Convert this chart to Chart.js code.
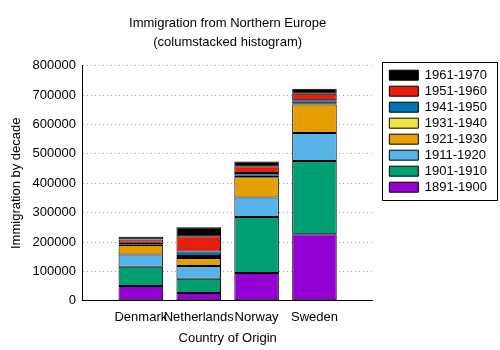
<!DOCTYPE html>
<html>
<head>
<meta charset="utf-8">
<script src="https://cdn.jsdelivr.net/npm/chart.js@4"></script>
<style>
  html,body{margin:0;padding:0;background:#fff;}
  #wrap{width:500px;height:350px;}
</style>
</head>
<body>
<div id="wrap"><canvas id="c" width="500" height="350"></canvas></div>
<script>
// ---- data (immigration by decade, northern europe) ----
const countries=['Denmark','Netherlands','Norway','Sweden'];
const decades=['1891-1900','1901-1910','1911-1920','1921-1930','1931-1940','1941-1950','1951-1960','1961-1970'];
const d1891=[50231,26758,95015,226266];
const d1901=[65285,48262,190505,249534];
const d1911=[41983,43718,66395,95074];
const d1921=[32430,26948,68531,97249];
const d1931=[2559,7150,4740,3960];
const d1941=[5393,14860,10100,10665];
const d1951=[10984,52277,22935,21697];
const d1961=[9201,30606,15484,17116];
const yTicks=[0,100000,200000,300000,400000,500000,600000,700000,800000];
const colors=['#9400d3','#009e73','#56b4e9','#e69f00','#f0e442','#0072b2','#e51e10','#000000'];

const series=[d1891,d1901,d1911,d1921,d1931,d1941,d1951,d1961];
const FONT='"Liberation Sans", Arial, sans-serif';

const datasets=series.map((vals,i)=>({
  label:decades[i],
  data:vals.map((v,j)=>({x:j,y:v})),
  backgroundColor:colors[i],
  borderColor:'#000',
  borderWidth:1,
  borderSkipped:false,
  barPercentage:0.77,
  categoryPercentage:1
}));

// box around the legend, like gnuplot's key
const legendBox={
  id:'legendBox',
  afterDraw(chart){
    const lg=chart.legend;
    if(!lg||!lg.legendHitBoxes.length) return;
    const hb=lg.legendHitBoxes;
    const x=hb[0].left-7, y=hb[0].top-7;
    const last=hb[hb.length-1];
    const ctx=chart.ctx;
    ctx.save();
    ctx.strokeStyle='#000';
    ctx.lineWidth=1;
    ctx.strokeRect(Math.round(x)+0.5,Math.round(y)+0.5,115,Math.round(last.top+last.height+6-y));
    ctx.restore();
  }
};

new Chart(document.getElementById('c'),{
  type:'bar',
  data:{datasets},
  options:{
    responsive:false,
    animation:false,
    layout:{padding:{left:9,right:3,top:0,bottom:4}},
    plugins:{
      title:{
        display:true,
        text:['Immigration from Northern Europe','(columstacked histogram)'],
        fullSize:false,
        color:'#000',
        font:{family:FONT,size:13,weight:'normal',lineHeight:1.45},
        padding:{top:14,bottom:14}
      },
      legend:{
        position:'right',
        align:'start',
        fullSize:false,
        reverse:true,
        labels:{
          color:'#000',
          font:{family:FONT,size:13},
          boxWidth:29,
          boxHeight:10,
          padding:3
        }
      },
      tooltip:{enabled:false}
    },
    scales:{
      x:{
        type:'linear',
        stacked:true,
        offset:false,
        min:-1,max:4,
        grid:{display:true,drawOnChartArea:false,drawTicks:false},
        border:{display:true,color:'#000',width:1},
        ticks:{
          stepSize:1,
          autoSkip:false,
          maxRotation:0,
          color:'#000',
          padding:9,
          font:{family:FONT,size:13},
          callback:v=>countries[v]||''
        },
        title:{display:true,text:'Country of Origin',color:'#000',font:{family:FONT,size:13},padding:{top:-4,bottom:0}}
      },
      y:{
        stacked:true,
        min:0,max:800000,
        afterBuildTicks:s=>{s.ticks=yTicks.map(v=>({value:v}));},
        grid:{color:'#a0a0a0',drawTicks:false,lineWidth:1},
        border:{display:true,color:'#000',width:1,dash:[1,3]},
        ticks:{color:'#000',padding:7,font:{family:FONT,size:13},callback:v=>String(v)},
        title:{display:true,text:'Immigration by decade',color:'#000',font:{family:FONT,size:13},padding:{top:0,bottom:1}}
      },
      // hidden spacer between plot and key
      gap:{
        position:'right',
        display:false,
        afterFit:s=>{s.width=14;}
      }
    }
  },
  plugins:[legendBox]
});
</script>
</body>
</html>
